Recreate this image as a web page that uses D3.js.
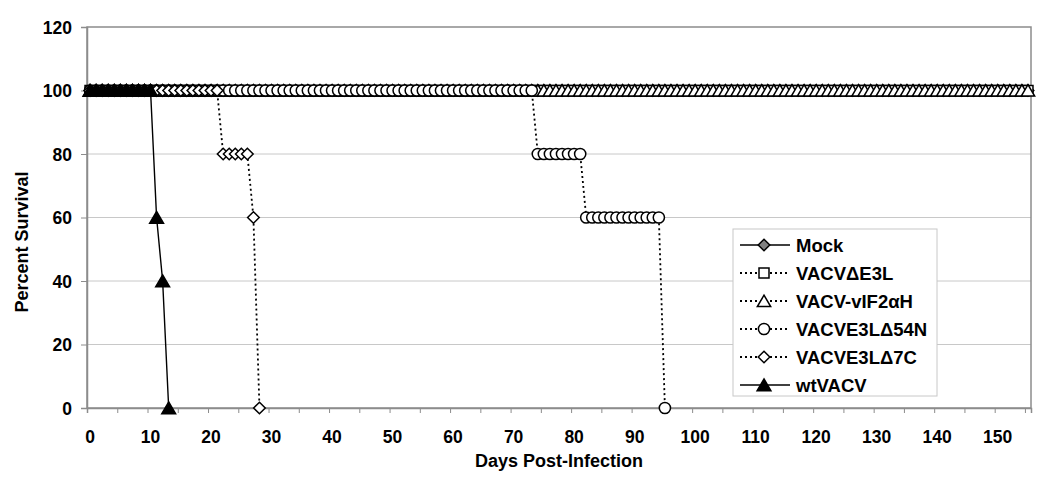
<!DOCTYPE html>
<html>
<head>
<meta charset="utf-8">
<script src="https://cdn.jsdelivr.net/npm/d3@7"></script>
<style>
  body { margin: 0; background: #fff; }
  text { font-family: "Liberation Sans", Arial, sans-serif; font-weight: bold; fill: #000; }
</style>
</head>
<body>
<script>
// days 0..155, one category per day
var days = d3.range(0, 156);
var xLabels = [0, 10, 20, 30, 40, 50, 60, 70, 80, 90, 100, 110, 120, 130, 140, 150];
var yTicks = [0, 20, 40, 60, 80, 100, 120];

// survival as runs: [firstDay, lastDay, percent]
var mockRuns = [[0, 155, 100]];
var e3lRuns = [[0, 155, 100]];
var vifRuns = [[0, 155, 100]];
var n54Runs = [[0, 73, 100], [74, 81, 80], [82, 94, 60], [95, 95, 0]];
var c7Runs = [[0, 21, 100], [22, 26, 80], [27, 27, 60], [28, 28, 0]];
var wtRuns = [[0, 10, 100], [11, 11, 60], [12, 12, 40], [13, 13, 0]];

var seriesNames = ["Mock", "VACV\u0394E3L", "VACV-vIF2\u03b1H", "VACVE3L\u039454N", "VACVE3L\u03947C", "wtVACV"];

function expand(runs) {
  var pts = [];
  runs.forEach(function(r) {
    days.forEach(function(d) { if (d >= r[0] && d <= r[1]) pts.push({day: d, v: r[2]}); });
  });
  return pts;
}

// excel-like marker shapes
function diamond(r) { return "M0," + (-r) + "L" + r + ",0L0," + r + "L" + (-r) + ",0Z"; }
function square(r) { return "M" + (-r) + "," + (-r) + "H" + r + "V" + r + "H" + (-r) + "Z"; }
function triangle(r) { return "M0," + (-r) + "L" + (r * 1.15) + "," + (r * 0.95) + "H" + (-r * 1.15) + "Z"; }
function circle(r) { return "M" + r + ",0A" + r + "," + r + " 0 1,1 " + (-r) + ",0A" + r + "," + r + " 0 1,1 " + r + ",0Z"; }

var series = [
  {name: seriesNames[0], pts: expand(mockRuns), dash: null, shape: diamond(5.8), fill: "#808080"},
  {name: seriesNames[1], pts: expand(e3lRuns), dash: "2,3", shape: square(5), fill: "#fff"},
  {name: seriesNames[2], pts: expand(vifRuns), dash: "2,3", shape: triangle(5.8), fill: "#fff"},
  {name: seriesNames[3], pts: expand(n54Runs), dash: "2,3", shape: circle(5.6), fill: "#fff"},
  {name: seriesNames[4], pts: expand(c7Runs), dash: "2,3", shape: diamond(5.8), fill: "#fff"},
  {name: seriesNames[5], pts: expand(wtRuns), dash: null, shape: triangle(6), fill: "#000"}
];

var width = 1050, height = 481;
var plot = {left: 87, right: 1031, top: 27, bottom: 408};

var svg = d3.select("body").append("svg")
    .attr("width", width)
    .attr("height", height);

var x = d3.scaleLinear().domain([-0.5, 155.5]).range([plot.left, plot.right]);
var y = d3.scaleLinear().domain([0, 120]).range([plot.bottom, plot.top]);

// gridlines
svg.append("g").selectAll("line")
    .data(yTicks.filter(function(t) { return t > 0 && t < 120; }))
  .enter().append("line")
    .attr("x1", plot.left).attr("x2", plot.right)
    .attr("y1", function(d) { return y(d); }).attr("y2", function(d) { return y(d); })
    .attr("stroke", "#c8c8c8").attr("stroke-width", 1);

// plot border
svg.append("rect")
    .attr("x", plot.left).attr("y", y(120))
    .attr("width", plot.right - plot.left).attr("height", plot.bottom - y(120))
    .attr("fill", "none").attr("stroke", "#8c8c8c").attr("stroke-width", 1.5);

// y axis
var yAxis = svg.append("g")
    .attr("transform", "translate(" + plot.left + ",0)")
    .call(d3.axisLeft(y).tickValues(yTicks).tickSize(6).tickPadding(9));
yAxis.select(".domain").attr("stroke", "#8c8c8c").attr("stroke-width", 1.5);
yAxis.selectAll(".tick line").attr("stroke", "#8c8c8c");
yAxis.selectAll("text").style("font-size", "17.5px").attr("dy", "0.36em");

// x axis: tick marks between categories, labels every 10 days
var xTickPos = d3.range(-0.5, 155, 5);
var xAxis = svg.append("g")
    .attr("transform", "translate(0," + plot.bottom + ")")
    .call(d3.axisBottom(x).tickValues(xTickPos).tickSize(5).tickFormat(""));
xAxis.select(".domain").attr("stroke", "#8c8c8c").attr("stroke-width", 1.5);
xAxis.selectAll(".tick line").attr("stroke", "#8c8c8c");

svg.append("g").selectAll("text")
    .data(xLabels)
  .enter().append("text")
    .attr("x", function(d) { return x(d); })
    .attr("y", 443)
    .attr("text-anchor", "middle")
    .style("font-size", "17.5px")
    .text(function(d) { return d; });

// axis titles
svg.append("text")
    .attr("x", (plot.left + plot.right) / 2)
    .attr("y", 467)
    .attr("text-anchor", "middle")
    .style("font-size", "18px")
    .text("Days Post-Infection");

svg.append("text")
    .attr("transform", "translate(28,242) rotate(-90)")
    .attr("text-anchor", "middle")
    .style("font-size", "18px")
    .text("Percent Survival");

// series
var line = d3.line()
    .x(function(d) { return x(d.day); })
    .y(function(d) { return y(d.v); });

series.forEach(function(s) {
  var g = svg.append("g");
  g.append("path")
      .datum(s.pts)
      .attr("d", line)
      .attr("fill", "none")
      .attr("stroke", "#000")
      .attr("stroke-width", s.dash ? 1.8 : 1.4)
      .attr("stroke-dasharray", s.dash);
  g.selectAll("path.m")
      .data(s.pts)
    .enter().append("path")
      .attr("class", "m")
      .attr("transform", function(d) { return "translate(" + x(d.day) + "," + y(d.v) + ")"; })
      .attr("d", s.shape)
      .attr("fill", s.fill)
      .attr("stroke", "#000")
      .attr("stroke-width", 1.5);
});

// legend
var lg = svg.append("g").attr("transform", "translate(733,229)");
lg.append("rect")
    .attr("width", 204).attr("height", 167)
    .attr("fill", "#fff").attr("stroke", "#c8c8c8").attr("stroke-width", 1);

var item = lg.selectAll("g.item")
    .data(series)
  .enter().append("g")
    .attr("class", "item")
    .attr("transform", function(d, i) { return "translate(0," + (16 + i * 28) + ")"; });

item.append("line")
    .attr("x1", 7).attr("x2", 57)
    .attr("stroke", "#000")
    .attr("stroke-width", function(d) { return d.dash ? 1.8 : 1.4; })
    .attr("stroke-dasharray", function(d) { return d.dash; });

item.append("path")
    .attr("transform", "translate(31,0)")
    .attr("d", function(d) { return d.shape; })
    .attr("fill", function(d) { return d.fill; })
    .attr("stroke", "#000")
    .attr("stroke-width", 1.5);

item.append("text")
    .attr("x", 63)
    .attr("dy", "0.36em")
    .style("font-size", "18.5px")
    .text(function(d) { return d.name; });
</script>
</body>
</html>
